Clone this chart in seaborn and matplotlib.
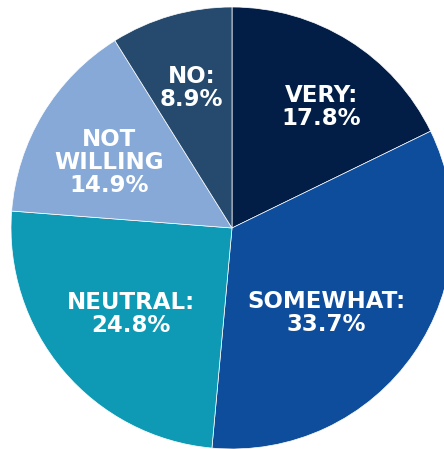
import matplotlib
matplotlib.use("Agg")
import matplotlib.pyplot as plt
import seaborn as sns
import numpy as np

# survey answers, clockwise from 12 o'clock
categories = ["VERY:", "SOMEWHAT:", "NEUTRAL:", "NOT\nWILLING", "NO:"]
shares = [17.8, 33.7, 24.8, 14.9, 8.9]
slice_colors = ["#021E46", "#0E4C9C", "#0E9AB4", "#86A9D8", "#254A6E"]

# label placement (radius as fraction of pie radius, angle tweak in degrees)
label_radius = [0.68, 0.575, 0.60, 0.63, 0.66]
label_shift = [-4.5, -7.5, 0.0, 3.0, 0.0]

sns.set_theme(style="white")
plt.rcParams["font.family"] = ["DejaVu Sans"]

fig = plt.figure(figsize=(4.44, 4.49), dpi=100)
ax = fig.add_axes([0, 0, 1, 1])

palette = sns.color_palette(slice_colors)
wedges, _ = ax.pie(shares, colors=palette, startangle=90, counterclock=False,
                   radius=1.0, wedgeprops=dict(edgecolor="white", linewidth=0.5))

for w, cat, val, r, sh in zip(wedges, categories, shares, label_radius, label_shift):
    mid = np.deg2rad((w.theta1 + w.theta2) / 2 + sh)
    x, y = r * np.cos(mid), r * np.sin(mid)
    ax.text(x, y, f"{cat}\n{val:.1f}%", ha="center", va="center", color="white",
            fontsize=16.5, fontweight="bold", linespacing=1.0)

# pie radius ~221 px, centre at (232, 228) px from the top-left corner
scale = 221.0
ax.set_xlim(-232 / scale, (444 - 232) / scale)
ax.set_ylim(-(449 - 228) / scale, 228 / scale)
ax.set_aspect("auto")
ax.axis("off")

fig.savefig("out.png", dpi=100, facecolor="white")
